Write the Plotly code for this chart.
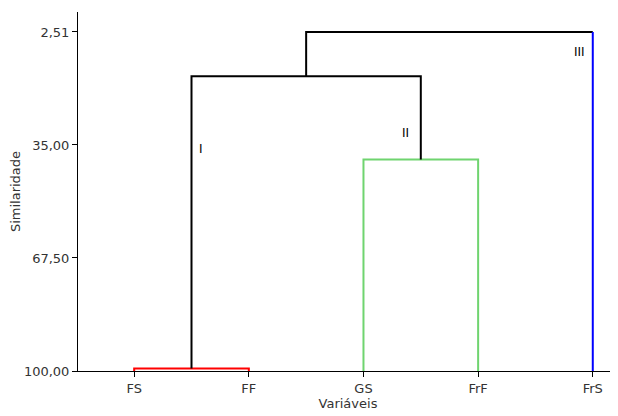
import plotly.graph_objects as go

# Data
categories = ["FS", "FF", "GS", "FrF", "FrS"]
y_ticks = [2.51, 35.00, 67.50, 100.00]
y_tick_labels = ["2,51", "35,00", "67,50", "100,00"]
# merge heights (similarity)
merge_fs_ff = 99.3
merge_gs_frf = 39.2
merge_I_II = 15.25
merge_root = 2.51
base = 100.0
group_labels = ["I", "II", "III"]

idx = {c: i for i, c in enumerate(categories)}
x_fs, x_ff, x_gs, x_frf, x_frs = (idx[c] for c in categories)
x_c1 = (x_fs + x_ff) / 2
x_c2 = (x_gs + x_frf) / 2
x_c12 = (x_c1 + x_c2) / 2

fig = go.Figure()

def seg(xs, ys, color):
    fig.add_trace(go.Scatter(x=xs, y=ys, mode="lines",
                             line=dict(color=color, width=2),
                             hoverinfo="skip", showlegend=False))

# red cluster FS-FF
seg([x_fs, x_fs, x_ff, x_ff], [base, merge_fs_ff, merge_fs_ff, base], "#ff0000")
# green cluster GS-FrF
seg([x_gs, x_gs, x_frf, x_frf], [base, merge_gs_frf, merge_gs_frf, base], "#6fd46f")
# black join I-II
seg([x_c1, x_c1, x_c2, x_c2], [merge_fs_ff, merge_I_II, merge_I_II, merge_gs_frf], "#000000")
# black root
seg([x_c12, x_c12, x_frs], [merge_I_II, merge_root, merge_root], "#000000")
# blue FrS
seg([x_frs, x_frs], [merge_root, base], "#0000ff")

# group labels
label_pos = [(x_c1 + 0.08, 36.3), (x_c2 - 0.13, 31.5), (x_frs - 0.12, 8.4)]
for t, (lx, ly) in zip(group_labels, label_pos):
    fig.add_annotation(x=lx, y=ly, text=t, showarrow=False,
                       font=dict(family="DejaVu Sans", size=12, color="#000000"))

# page body has an 8px margin, so the figure is sized/offset to compensate
fig.update_layout(
    width=610, height=408,
    margin=dict(l=70, r=0, t=4, b=45),
    paper_bgcolor="white", plot_bgcolor="white",
    font=dict(family="DejaVu Sans", size=13, color="#333333"),
)
fig.update_xaxes(
    range=[-0.49, 4.22],
    tickvals=list(range(len(categories))), ticktext=categories,
    showgrid=False, zeroline=False,
    showline=True, linecolor="#000000", linewidth=1,
    ticks="outside", ticklen=5, tickcolor="#000000",
    title=dict(text="Variáveis", standoff=4, font=dict(size=13, color="#333333")),
)
fig.update_yaxes(
    range=[base, -3.23],
    tickvals=y_ticks, ticktext=y_tick_labels,
    showgrid=False, zeroline=False,
    showline=True, linecolor="#000000", linewidth=1,
    ticks="outside", ticklen=5, tickcolor="#000000",
    title=dict(text="Similaridade", standoff=5, font=dict(size=13, color="#333333")),
)

fig.write_html("out.html")
